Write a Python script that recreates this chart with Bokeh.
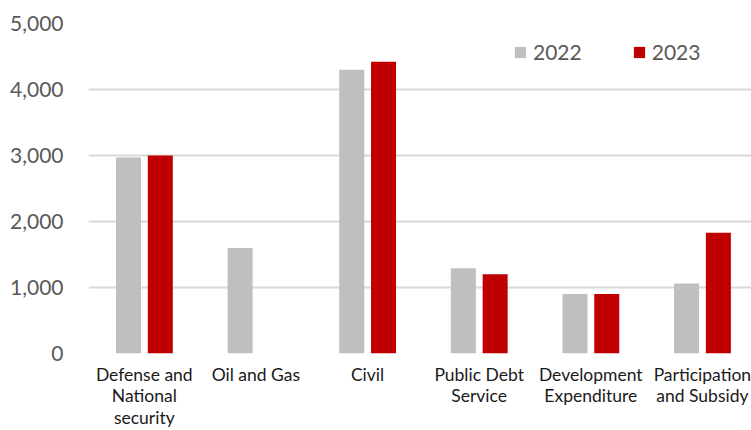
import numpy as np
from bokeh.plotting import figure
from bokeh.models import ColumnDataSource, Range1d, FixedTicker, Legend, LegendItem, NumeralTickFormatter
from bokeh.transform import dodge
from bokeh.embed import file_html
from bokeh.resources import INLINE

categories = ["Defense and\nNational\nsecurity", "Oil and Gas", "Civil",
              "Public Debt\nService", "Development\nExpenditure", "Participation\nand Subsidy"]
values_2022 = [2970, 1600, 4300, 1290, 900, 1060]
values_2023 = [3000, 0, 4420, 1200, 900, 1830]
series_names = ["2022", "2023"]
y_ticks = [0, 1000, 2000, 3000, 4000, 5000]

FONT = "Lato"
x_pos = list(np.arange(len(categories)) + 0.5)
src = ColumnDataSource(dict(x=x_pos, y2022=values_2022, y2023=values_2023))

p = figure(width=751, height=430, output_backend="svg", toolbar_location=None,
           x_range=Range1d(0, 5.94), y_range=Range1d(0, 5000),
           min_border_left=88, min_border_right=0, min_border_top=23, min_border_bottom=77)
p.outline_line_color = None
p.background_fill_color = "white"
p.border_fill_color = "white"

r1 = p.vbar(x=dodge("x", -0.1416, range=p.x_range), top="y2022", width=0.224, source=src,
            fill_color="#BFBFBF", line_color=None)
r2 = p.vbar(x=dodge("x", 0.1433, range=p.x_range), top="y2023", width=0.224, source=src,
            fill_color="#C00000", line_color=None)

# y axis
p.yaxis.ticker = FixedTicker(ticks=y_ticks)
p.yaxis.formatter = NumeralTickFormatter(format="0,0")
p.yaxis.axis_line_color = None
p.yaxis.major_tick_line_color = None
p.yaxis.minor_tick_line_color = None
p.yaxis.major_label_standoff = 19
p.yaxis.major_label_text_font = FONT
p.yaxis.major_label_text_font_size = "21px"
p.yaxis.major_label_text_color = "#595959"

# x axis
p.xaxis.ticker = FixedTicker(ticks=x_pos)
p.xaxis.major_label_overrides = {float(x): c for x, c in zip(x_pos, categories)}
p.xaxis.axis_line_color = None
p.xaxis.major_tick_line_color = None
p.xaxis.minor_tick_line_color = None
p.xaxis.major_label_standoff = 4
p.xaxis.major_label_text_font = FONT
p.xaxis.major_label_text_font_size = "17.5px"
p.xaxis.major_label_text_color = "#1a1a1a"
p.xaxis.major_label_text_line_height = 1.03

p.xgrid.grid_line_color = None
p.ygrid.ticker = FixedTicker(ticks=y_ticks)
p.ygrid.grid_line_color = "#D9D9D9"
p.ygrid.grid_line_width = 2

legend = Legend(items=[LegendItem(label=series_names[0], renderers=[r1]),
                       LegendItem(label=series_names[1], renderers=[r2])],
                orientation="horizontal", location=(425, 289),
                glyph_width=14, glyph_height=14, label_standoff=6, spacing=50,
                padding=0, margin=0, border_line_color=None, background_fill_alpha=0,
                label_text_font=FONT, label_text_font_size="21px", label_text_color="#595959")
p.add_layout(legend)

open("out.html", "w").write(file_html(p, INLINE))
